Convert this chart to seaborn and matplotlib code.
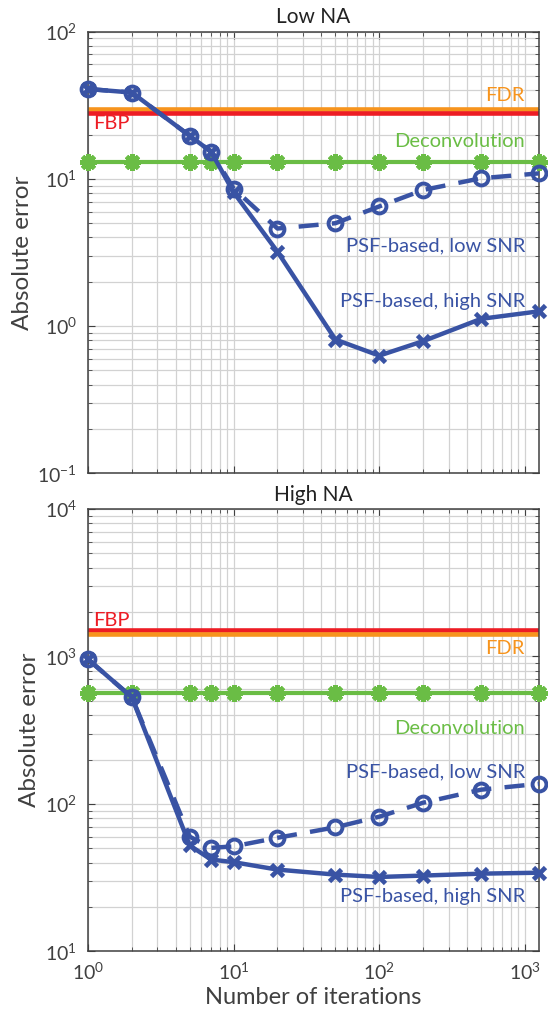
import numpy as np
import matplotlib
matplotlib.use("Agg")
import matplotlib.pyplot as plt
import seaborn as sns

iters = [1, 2, 5, 7, 10, 20, 50, 100, 200, 500, 1250]

# Low NA panel
low_fbp = 28.1
low_fdr = 30.0
low_deconv = 13.1
low_psf_lowsnr = [40.8, 38.6, 19.6, 15.3, 8.6, 4.6, 5.0, 6.5, 8.4, 10.1, 10.9]
low_psf_highsnr = [40.8, 38.6, 19.6, 15.3, 8.1, 3.2, 0.81, 0.63, 0.79, 1.12, 1.26]

# High NA panel
high_fbp = 1513
high_fdr = 1418
high_deconv = 569
high_psf_lowsnr = [957, 529, 60, 50.4, 51.6, 59, 69.5, 82, 102, 125, 137]
high_psf_highsnr = [957, 529, 52.3, 42, 40.3, 35.9, 33.2, 32.0, 32.7, 33.7, 34.2]

panel_titles = ["Low NA", "High NA"]

BLUE = "#3953a4"
RED = "#ed1c24"
ORANGE = "#f7941d"
GREEN = "#6abd45"
GREY = "#404040"

sns.set_style("ticks")
plt.rcParams["font.family"] = ["Lato", "DejaVu Sans"]
plt.rcParams["mathtext.fontset"] = "custom"
plt.rcParams["mathtext.rm"] = "Lato"
plt.rcParams["mathtext.it"] = "Lato"

fig = plt.figure(figsize=(5.48, 10.22), dpi=100)
ax1 = fig.add_axes([0.1606, 0.5369, 0.823, 0.4321])
ax2 = fig.add_axes([0.1606, 0.0690, 0.823, 0.4330])

ANN = 14.5


def draw_panel(ax, fbp, fdr, deconv, psf_low, psf_high, fdr_on_top):
    # reference methods (constant)
    if fdr_on_top:
        ax.axhline(fdr, color=ORANGE, lw=3.3, zorder=2)
        ax.axhline(fbp, color=RED, lw=3.3, zorder=2)
    else:
        ax.axhline(fbp, color=RED, lw=3.3, zorder=2)
        ax.axhline(fdr, color=ORANGE, lw=3.3, zorder=2)
    sns.lineplot(x=iters, y=[deconv] * len(iters), ax=ax, color=GREEN, lw=3,
                 marker=(8, 2, 0), markersize=12, markeredgewidth=3.3,
                 markeredgecolor=GREEN, zorder=3, clip_on=False)
    sns.lineplot(x=iters, y=psf_low, ax=ax, color=BLUE, lw=3.2,
                 linestyle=(0, (4.5, 3)), marker="o", markersize=10,
                 markeredgewidth=2.8, markerfacecolor="none",
                 markeredgecolor=BLUE, zorder=4, clip_on=False)
    sns.lineplot(x=iters, y=psf_high, ax=ax, color=BLUE, lw=3.2,
                 marker="x", markersize=9, markeredgewidth=3.4,
                 markeredgecolor=BLUE, zorder=4, clip_on=False)
    ax.set_xscale("log")
    ax.set_yscale("log")
    ax.set_xlim(1, 1250)
    ax.grid(True, which="both", color="#d2d2d2", lw=0.9)
    ax.set_axisbelow(True)
    for s in ax.spines.values():
        s.set_color(GREY)
        s.set_linewidth(1.1)
    ax.tick_params(which="both", direction="in", top=True, right=True,
                   colors=GREY, labelsize=14, labelcolor=GREY)
    ax.tick_params(which="major", length=5)
    ax.tick_params(which="minor", length=3)
    ax.tick_params(axis="y", pad=8)
    ax.set_ylabel("Absolute error", fontsize=17.5, color=GREY, labelpad=3)


draw_panel(ax1, low_fbp, low_fdr, low_deconv, low_psf_lowsnr, low_psf_highsnr, True)
ax1.set_ylim(0.1, 100)
ax1.tick_params(axis="x", labelbottom=False)
ax1.set_title(panel_titles[0], fontsize=15, pad=6, color="#222222")
ax1.text(1.09, 23.6, "FBP", color=RED, fontsize=ANN, va="center", ha="left")
ax1.text(1000, 36.8, "FDR", color=ORANGE, fontsize=ANN, va="center", ha="right")
ax1.text(1000, 17.9, "Deconvolution", color=GREEN, fontsize=ANN, va="center", ha="right")
ax1.text(1000, 3.49, "PSF-based, low SNR", color=BLUE, fontsize=ANN, va="center", ha="right")
ax1.text(1000, 1.47, "PSF-based, high SNR", color=BLUE, fontsize=ANN, va="center", ha="right")

draw_panel(ax2, high_fbp, high_fdr, high_deconv, high_psf_lowsnr, high_psf_highsnr, False)
ax2.set_ylim(10, 10000)
ax2.set_title(panel_titles[1], fontsize=15, pad=6, color="#222222")
ax2.tick_params(axis="x", pad=7)
ax2.set_xlabel("Number of iterations", fontsize=17, color=GREY, labelpad=3)
ax2.text(1.09, 1750, "FBP", color=RED, fontsize=ANN, va="center", ha="left")
ax2.text(1000, 1138, "FDR", color=ORANGE, fontsize=ANN, va="center", ha="right")
ax2.text(1000, 326, "Deconvolution", color=GREEN, fontsize=ANN, va="center", ha="right")
ax2.text(1000, 164, "PSF-based, low SNR", color=BLUE, fontsize=ANN, va="center", ha="right")
ax2.text(1000, 23.6, "PSF-based, high SNR", color=BLUE, fontsize=ANN, va="center", ha="right")

fig.savefig("out.png", dpi=100)
